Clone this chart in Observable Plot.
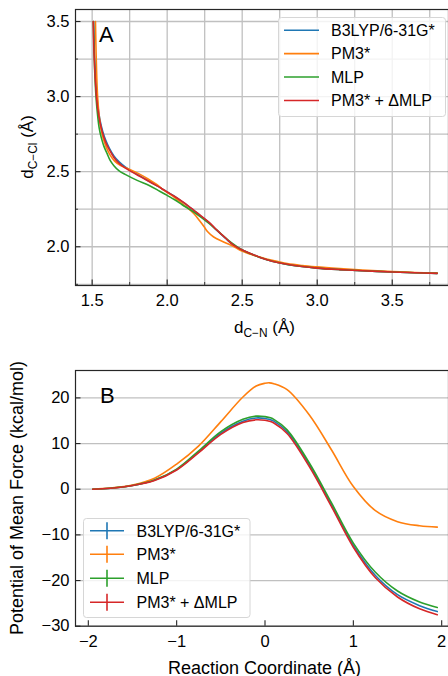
<!DOCTYPE html>
<html>
<head>
<meta charset="utf-8">
<script src="https://cdn.jsdelivr.net/npm/d3@7"></script>
<script src="https://cdn.jsdelivr.net/npm/@observablehq/plot@0.6"></script>
<style>
  body { margin: 0; background: #fff; width: 448px; overflow: hidden; }
  #chart svg { display: block; }
</style>
</head>
<body>
<div id="chart"></div>
<script>
// ---- shared series metadata ----
const seriesNames  = ["B3LYP/6-31G*", "PM3*", "MLP", "PM3* + ΔMLP"];
const seriesColors = ["#1f77b4", "#ff7f0e", "#2ca02c", "#d62728"];

// ---- panel A: d(C–N) vs d(C–Cl) paths, [dCN, dCCl] in Å ----
const pathB3LYP = [
  [1.510,3.50],[1.515,3.30],[1.522,3.15],[1.530,3.02],[1.540,2.92],[1.553,2.84],
  [1.570,2.77],[1.590,2.71],[1.615,2.655],[1.645,2.605],[1.680,2.565],[1.720,2.532],
  [1.770,2.500],[1.830,2.465],[1.900,2.425],[1.960,2.390],[2.000,2.365],[2.050,2.335],
  [2.100,2.300],[2.160,2.255],[2.220,2.208],[2.280,2.160],[2.330,2.110],[2.390,2.055],
  [2.440,2.012],[2.500,1.978],[2.560,1.952],[2.620,1.928],[2.700,1.903],[2.800,1.882],
  [2.900,1.868],[3.000,1.858],[3.150,1.848],[3.300,1.840],[3.500,1.832],[3.650,1.827],
  [3.800,1.823]
];
const pathPM3 = [
  [1.522,3.50],[1.526,3.30],[1.531,3.12],[1.537,2.99],[1.546,2.88],[1.558,2.79],
  [1.574,2.72],[1.595,2.66],[1.620,2.61],[1.650,2.57],[1.690,2.54],[1.750,2.515],
  [1.810,2.487],[1.870,2.453],[1.930,2.415],[1.980,2.375],[2.040,2.335],[2.090,2.295],
  [2.140,2.255],[2.180,2.218],[2.215,2.175],[2.245,2.135],[2.270,2.100],[2.310,2.065],
  [2.380,2.030],[2.440,2.003],[2.490,1.975],[2.580,1.942],[2.700,1.910],[2.800,1.888],
  [2.900,1.875],[3.000,1.866],[3.150,1.855],[3.300,1.845],[3.500,1.835],[3.650,1.829],
  [3.800,1.825]
];
const pathMLP = [
  [1.508,3.50],[1.513,3.30],[1.519,3.12],[1.527,2.98],[1.537,2.87],[1.547,2.79],
  [1.560,2.73],[1.578,2.67],[1.600,2.62],[1.620,2.575],[1.645,2.540],[1.680,2.505],
  [1.720,2.482],[1.800,2.442],[1.880,2.408],[1.950,2.370],[2.000,2.342],[2.050,2.313],
  [2.100,2.280],[2.180,2.230],[2.270,2.163],[2.360,2.085],[2.430,2.025],[2.500,1.978],
  [2.560,1.952],[2.620,1.928],[2.700,1.903],[2.800,1.882],[2.900,1.868],[3.000,1.858],
  [3.150,1.848],[3.300,1.840],[3.500,1.832],[3.650,1.827],[3.800,1.823]
];
const pathDeltaMLP = [
  [1.507,3.50],[1.512,3.30],[1.519,3.15],[1.527,3.02],[1.537,2.92],[1.550,2.84],
  [1.566,2.77],[1.588,2.70],[1.615,2.645],[1.645,2.595],[1.680,2.555],[1.720,2.525],
  [1.770,2.495],[1.830,2.462],[1.900,2.423],[1.960,2.390],[2.000,2.365],[2.050,2.335],
  [2.100,2.302],[2.160,2.257],[2.220,2.210],[2.280,2.162],[2.330,2.112],[2.390,2.057],
  [2.440,2.013],[2.500,1.979],[2.560,1.953],[2.620,1.929],[2.700,1.904],[2.800,1.883],
  [2.900,1.868],[3.000,1.858],[3.150,1.848],[3.300,1.840],[3.500,1.832],[3.650,1.827],
  [3.800,1.823]
];
const pathsA = [pathB3LYP, pathPM3, pathMLP, pathDeltaMLP];
const ticksAx = [1.5, 2.0, 2.5, 3.0, 3.5];
const minorAx = [1.75, 2.25, 2.75, 3.25, 3.75];
const ticksAy = [2.0, 2.5, 3.0, 3.5];
const minorAy = [1.75, 2.25, 2.75, 3.25];

// ---- panel B: potential of mean force along the reaction coordinate ----
const reactionCoord = [-1.95,-1.75,-1.5,-1.25,-1.0,-0.75,-0.5,-0.25,-0.1,0.0,0.05,0.1,0.25,0.5,0.75,1.0,1.25,1.5,1.75,1.95];
const pmfB3LYP    = [0,0.2,0.8,2.0,4.3,8.2,12.3,14.9,15.6,15.5,15.3,14.9,12.6,5.4,-3.4,-12.3,-18.9,-23.1,-25.5,-26.8];
const pmfPM3      = [0,0.25,0.9,2.4,5.5,9.5,14.8,20.2,22.6,23.2,23.3,23.1,21.8,16.3,8.7,0.6,-4.7,-7.1,-8.0,-8.3];
const pmfMLP      = [0,0.2,0.8,2.0,4.4,8.4,12.6,15.3,16.0,15.9,15.7,15.3,13.0,5.8,-2.9,-11.8,-18.2,-22.3,-24.7,-25.9];
const pmfDeltaMLP = [0,0.2,0.8,1.9,4.2,8.0,12.0,14.6,15.2,15.1,14.9,14.5,12.2,5.0,-3.7,-12.7,-19.4,-23.6,-26.2,-27.5];
const pmfSeries = [pmfB3LYP, pmfPM3, pmfMLP, pmfDeltaMLP];
const ticksBx = [-2, -1, 0, 1, 2];
const ticksBy = [-30, -20, -10, 0, 10, 20];

// ---- styling ----
const FONT = '"Liberation Sans", Arial, Helvetica, sans-serif';
const GRID = "#c0c0c0";
const SPINE = "#262626";

const rowsA = seriesNames.flatMap((name, i) => pathsA[i].map(([x, y]) => ({name, x, y})));
const rowsB = seriesNames.flatMap((name, i) => reactionCoord.map((x, k) => ({name, x, y: pmfSeries[i][k]})));

function panel({height, marginTop, marginBottom, xDomain, yDomain, xTicks, yTicks, xMinor, yMinor,
                gridX, rows, fmtX, fmtY}) {
  const W = 448, mL = 75;
  const innerW = W - mL;
  const innerH = height - marginTop - marginBottom;
  const marks = [];
  if (gridX) marks.push(Plot.ruleX([...xTicks, ...xMinor], {stroke: GRID, strokeWidth: 1.3}));
  marks.push(Plot.ruleY([...yTicks, ...yMinor], {stroke: GRID, strokeWidth: 1.3}));
  marks.push(Plot.line(rows, {x: "x", y: "y", z: "name", stroke: "name", strokeWidth: 1.6, curve: "catmull-rom"}));
  // inward tick marks
  marks.push(Plot.tickX(xTicks, {x: d => d, insetTop: innerH - 5.5, stroke: SPINE, strokeWidth: 1.1}));
  marks.push(Plot.tickY(yTicks, {y: d => d, insetRight: innerW - 5.5, stroke: SPINE, strokeWidth: 1.1}));
  if (xMinor.length) marks.push(Plot.tickX(xMinor, {x: d => d, insetTop: innerH - 3, stroke: SPINE, strokeWidth: 0.9}));
  if (yMinor.length) marks.push(Plot.tickY(yMinor, {y: d => d, insetRight: innerW - 3, stroke: SPINE, strokeWidth: 0.9}));
  marks.push(Plot.axisX(xTicks, {tickSize: 0, tickPadding: 9, tickFormat: fmtX, label: null, fill: "#000"}));
  marks.push(Plot.axisY(yTicks, {tickSize: 0, tickPadding: 6, tickFormat: fmtY, label: null, fill: "#000"}));
  marks.push(Plot.frame({stroke: SPINE, strokeWidth: 1.2}));
  return Plot.plot({
    width: W, height, marginLeft: mL, marginRight: 0, marginTop, marginBottom,
    style: {fontFamily: FONT, fontSize: "16.5px", color: "#000", background: "#fff"},
    x: {domain: xDomain, range: [mL, 454]},
    y: {domain: yDomain},
    color: {domain: seriesNames, range: seriesColors},
    marks
  });
}

const svgA = panel({
  height: 340, marginTop: 9, marginBottom: 55,
  xDomain: [1.389, 3.915], yDomain: [1.742, 3.58],
  xTicks: ticksAx, yTicks: ticksAy, xMinor: minorAx, yMinor: minorAy,
  gridX: true, rows: rowsA, fmtX: d3.format(".1f"), fmtY: d3.format(".1f")
});
const svgB = panel({
  height: 336, marginTop: 30, marginBottom: 50.3,
  xDomain: [-2.145, 2.145], yDomain: [-30, 26],
  xTicks: ticksBx, yTicks: ticksBy, xMinor: [], yMinor: [],
  gridX: false, rows: rowsB, fmtX: d3.format("d"), fmtY: d3.format("d")
});

const root = document.getElementById("chart");
root.append(svgA, svgB);

// ---- annotations: axis titles, panel letters, legends ----
function label(svg, {x, y, rotate = 0, size, parts}) {
  const t = d3.select(svg).append("text")
    .attr("transform", `translate(${x},${y}) rotate(${rotate})`)
    .attr("text-anchor", "middle")
    .attr("font-family", FONT).attr("font-size", size).attr("fill", "#000");
  for (const p of parts) {
    t.append("tspan").text(p.text)
      .attr("font-size", p.sub ? size * 0.7 : size)
      .attr("dy", p.dy || 0);
  }
}
label(svgA, {x: 264.5, y: 332.5, size: 17, parts: [{text: "d"}, {text: "C−N", sub: true, dy: 4}, {text: " (Å)", dy: -4}]});
label(svgA, {x: 33, y: 147, rotate: -90, size: 17, parts: [{text: "d"}, {text: "C−Cl", sub: true, dy: 4}, {text: " (Å)", dy: -4}]});
label(svgB, {x: 264.5, y: 333.5, size: 18, parts: [{text: "Reaction Coordinate (Å)"}]});
label(svgB, {x: 23, y: 158, rotate: -90, size: 18, parts: [{text: "Potential of Mean Force (kcal/mol)"}]});

d3.select(svgA).append("text").attr("x", 99).attr("y", 41.5).attr("text-anchor", "start")
  .attr("font-family", FONT).attr("font-size", 22).text("A");
d3.select(svgB).append("text").attr("x", 100).attr("y", 63).attr("text-anchor", "start")
  .attr("font-family", FONT).attr("font-size", 22).text("B");

function legend(svg, {x, y, w, h, rowY, lineX0, lineX1, textX, errorbar}) {
  const g = d3.select(svg).append("g").attr("font-family", FONT).attr("font-size", 16)
    .attr("text-anchor", "start");
  g.append("rect").attr("x", x).attr("y", y).attr("width", w).attr("height", h).attr("rx", 3)
    .attr("fill", "#fff").attr("fill-opacity", 0.8).attr("stroke", "#d6d6d6").attr("stroke-width", 1);
  seriesNames.forEach((name, i) => {
    const cy = rowY[i];
    g.append("line").attr("x1", lineX0).attr("x2", lineX1).attr("y1", cy).attr("y2", cy)
      .attr("stroke", seriesColors[i]).attr("stroke-width", 1.6);
    if (errorbar) {
      const cx = (lineX0 + lineX1) / 2;
      g.append("line").attr("x1", cx).attr("x2", cx).attr("y1", cy - 8.5).attr("y2", cy + 8.5)
        .attr("stroke", seriesColors[i]).attr("stroke-width", 1.6);
    }
    g.append("text").attr("x", textX).attr("y", cy + 5.8).attr("fill", "#000")
      .attr("text-anchor", "start").text(name);
  });
}
legend(svgA, {x: 278.5, y: 17.5, w: 167, h: 99, rowY: [30.3, 53.6, 77, 100.5], lineX0: 284, lineX1: 319, textX: 331, errorbar: false});
legend(svgB, {x: 83.5, y: 178.5, w: 166.5, h: 99, rowY: [190.7, 214.3, 238.3, 262.3], lineX0: 90, lineX1: 124, textX: 136.5, errorbar: true});
</script>
</body>
</html>
